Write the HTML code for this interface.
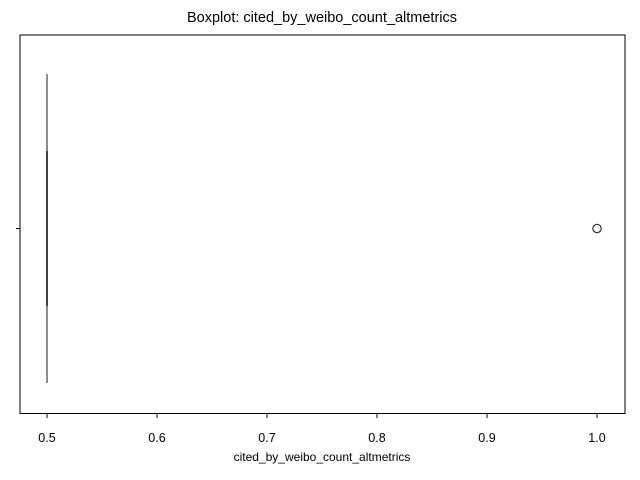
<!DOCTYPE html>
<html><head><meta charset="utf-8"><style>body{margin:0;background:#fff}svg{display:block}text{font-family:"Liberation Sans","DejaVu Sans",sans-serif;fill:#000}</style></head>
<body>
<svg width="640" height="480">
<text x="322" y="22" font-size="14.5" text-anchor="middle">Boxplot: cited_by_weibo_count_altmetrics</text>
<g id="plot"></g>
<rect x="20" y="35" width="605" height="378.5" fill="none" stroke="#000" stroke-width="1"/>
<line x1="16" y1="228.5" x2="20" y2="228.5" stroke="#000"/>
<g id="xaxis"></g>
<text x="322" y="461" font-size="12" text-anchor="middle">cited_by_weibo_count_altmetrics</text>
<script>
const ticks=[0.5,0.6,0.7,0.8,0.9,1.0];
const tickLabels=["0.5","0.6","0.7","0.8","0.9","1.0"];
const boxStats=[0.5,0.5,0.5,0.5,0.5]; // min,q1,median,q3,max
const outliers=[1.0];
function xs(v){return 47+(v-0.5)*1100;}
const NS="http://www.w3.org/2000/svg";
const ax=document.getElementById('xaxis');
ticks.forEach((t,i)=>{
 const l=document.createElementNS(NS,'line');
 l.setAttribute('x1',xs(t));l.setAttribute('x2',xs(t));l.setAttribute('y1',413.5);l.setAttribute('y2',418);l.setAttribute('stroke','#000');
 
 
 ax.appendChild(l);
 const tx=document.createElementNS(NS,'text');
 tx.setAttribute('x',xs(t));tx.setAttribute('y',442);tx.setAttribute('font-size','12.5');tx.setAttribute('text-anchor','middle');
 tx.textContent=tickLabels[i];
 
 
 ax.appendChild(tx);
});
const p=document.getElementById('plot');
function ln(x1,y1,x2,y2,c,w,name){const l=document.createElementNS(NS,'line');l.setAttribute('x1',x1);l.setAttribute('y1',y1);l.setAttribute('x2',x2);l.setAttribute('y2',y2);l.setAttribute('stroke',c);l.setAttribute('stroke-width',w);
 
 
 p.appendChild(l);}
ln(xs(boxStats[0]),74,xs(boxStats[0]),383,'#666',1.5,'whisker');
ln(xs(boxStats[1]),151,xs(boxStats[3]),306,'#4a4a4a',2,'box');
ln(xs(boxStats[2]),151,xs(boxStats[2]),306,'#444',2,'median-line');
outliers.forEach(o=>{const c=document.createElementNS(NS,'circle');c.setAttribute('cx',xs(o));c.setAttribute('cy',228.5);c.setAttribute('r',4.2);c.setAttribute('fill','none');c.setAttribute('stroke','#333');c.setAttribute('stroke-width','1.2');
 
 
 p.appendChild(c);});
</script>
</svg>
</body></html>
